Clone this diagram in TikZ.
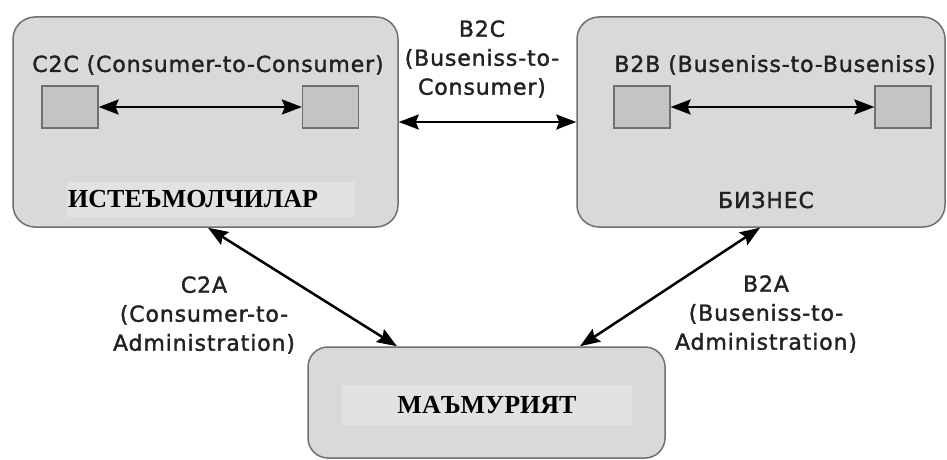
\documentclass[tikz,border=0pt]{standalone}
\usepackage{fontspec}
\usetikzlibrary{arrows.meta,calc}
\newfontfamily\labelfont[LetterSpace=4,FakeBold=1.6]{DejaVu Sans}
\newfontfamily\rusfont{Liberation Serif}
\definecolor{boxfill}{HTML}{D9D9D9}
\definecolor{boxline}{HTML}{707070}
\definecolor{sqfill}{HTML}{C4C4C4}
\definecolor{lblbg}{HTML}{E2E2E2}
\definecolor{txt}{HTML}{222222}
\tikzset{
  bigbox/.style={draw=boxline, line width=1.5pt, fill=boxfill, rounded corners=22pt, inner sep=0pt},
  sq/.style={draw=boxline, line width=1.2pt, fill=sqfill, minimum width=56pt, minimum height=42pt, inner sep=0pt},
  sanslbl/.style={font=\labelfont\fontsize{22pt}{29pt}\selectfont, text=txt, inner sep=0pt, align=center},
  ruslbl/.style={font=\rusfont\bfseries\fontsize{26pt}{30pt}\selectfont, text=black, fill=lblbg, inner sep=0pt},
  arr/.style={line width=2.5pt, {Stealth[length=20pt,width=15pt,inset=3pt]}-{Stealth[length=20pt,width=15pt,inset=3pt]}}
}
\begin{document}
\begin{tikzpicture}[x=1pt,y=-1pt]
\useasboundingbox[fill=white] (0,0) rectangle (947,460);
% main boxes
\node[bigbox, minimum width=385pt, minimum height=210pt] (L) at (205.5,122) {};
\node[bigbox, minimum width=368pt, minimum height=210pt] (R) at (761,122) {};
\node[bigbox, minimum width=357pt, minimum height=111pt, rounded corners=20pt] (M) at (486.5,402.5) {};
% inner squares
\node[sq] (s1) at (70,107) {};
\node[sq] (s2) at (330.5,107) {};
\node[sq] (s3) at (642,107) {};
\node[sq] (s4) at (903,107) {};
% inner labels
\node[sanslbl] (c2c) at (208,65) {C2C (Consumer-to-Consumer)};
\node[sanslbl] (b2b) at (775,65) {B2B (Buseniss-to-Buseniss)};
\node[ruslbl, anchor=west, minimum width=288pt, minimum height=35pt, text width=286pt, inner xsep=1pt, align=left] (ist) at (67,199.5) {ИСТЕЪМОЛЧИЛАР};
\node[sanslbl] (biz) at (766,200) {БИЗНЕС};
\node[ruslbl, minimum width=290pt, minimum height=40pt, align=center] (mam) at (487,405) {МАЪМУРИЯТ};
% connector labels
\node[sanslbl] (b2c) at (482,59) {B2C\\(Buseniss-to-\\Consumer)};
\node[sanslbl] (c2a) at (204,315) {C2A\\(Consumer-to-\\Administration)};
\node[sanslbl] (b2a) at (766,314) {B2A\\(Buseniss-to-\\Administration)};
% connectors
\draw[arr] (s1) -- (s2);
\draw[arr] (s3) -- (s4);
\draw[arr] (L) -- (R);
\draw[arr] ([xshift=2.5pt]L.south) -- ([xshift=-89.5pt]M.north);
\draw[arr] ([xshift=-1pt]R.south) -- ([xshift=93.5pt]M.north);
\end{tikzpicture}
\end{document}
